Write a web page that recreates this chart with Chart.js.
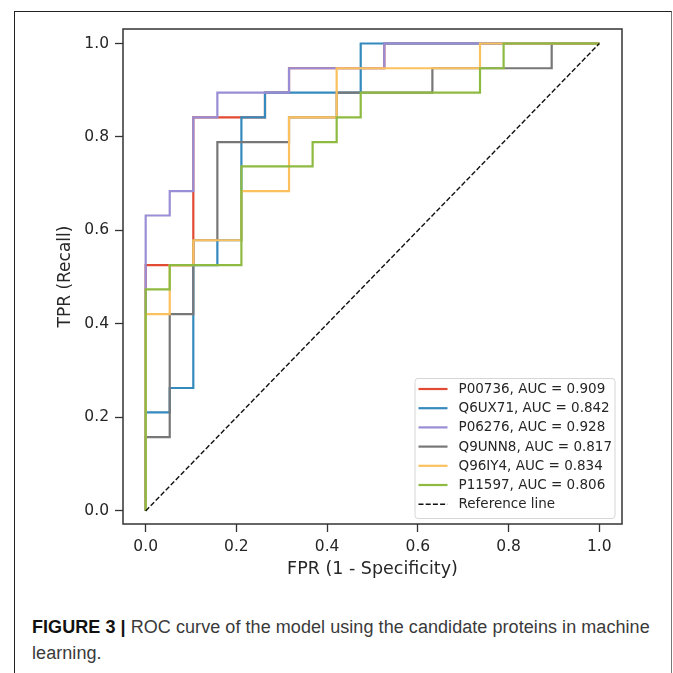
<!DOCTYPE html>
<html>
<head>
<meta charset="utf-8">
<script src="https://cdn.jsdelivr.net/npm/chart.js@4/dist/chart.umd.min.js"></script>
<style>
  html, body { margin: 0; padding: 0; background: #fff; }
  body { width: 673px; height: 673px; position: relative; overflow: hidden; }
  #frame {
    position: absolute; left: 14px; top: 11px; width: 656px; height: 700px;
    border-left: 1px solid #222; border-top: 1px solid #222; border-right: 1px solid #777;
  }
  #wrap { position: absolute; left: 0; top: 0; width: 673px; height: 600px; }
  #caption {
    position: absolute; left: 32px; top: 614px; width: 640px;
    font-family: "Liberation Sans", Arial, sans-serif; font-size: 18px;
    line-height: 26px; color: #3a3a3a; white-space: nowrap;
  }
  #caption b { color: #111; }
</style>
</head>
<body>
<div id="frame"></div>
<div id="wrap"><canvas id="roc" width="673" height="600"></canvas></div>
<div id="caption"><span id="line1"><b>FIGURE 3 |</b> ROC curve of the model using the candidate proteins in machine</span><br>learning.</div>
<script>
// curve labels / AUC
const proteins = ["P00736", "Q6UX71", "P06276", "Q9UNN8", "Q96IY4", "P11597"];
const aucs = ["0.909", "0.842", "0.928", "0.817", "0.834", "0.806"];
const colors = ["#E24A33", "#348ABD", "#988ED5", "#777777", "#FBC15E", "#8EBA42"];

// ROC corners
const fprP00736 = [0, 0, 0.105, 0.105, 0.263, 0.263, 0.316, 0.316, 0.526, 0.526, 1];
const tprP00736 = [0, 0.526, 0.526, 0.842, 0.842, 0.895, 0.895, 0.947, 0.947, 1, 1];

const fprQ6UX71 = [0, 0, 0.053, 0.053, 0.105, 0.105, 0.158, 0.158, 0.211, 0.211, 0.263, 0.263, 0.474, 0.474, 1];
const tprQ6UX71 = [0, 0.211, 0.211, 0.263, 0.263, 0.526, 0.526, 0.579, 0.579, 0.842, 0.842, 0.895, 0.895, 1, 1];

const fprP06276 = [0, 0, 0.053, 0.053, 0.105, 0.105, 0.158, 0.158, 0.316, 0.316, 0.526, 0.526, 1];
const tprP06276 = [0, 0.632, 0.632, 0.684, 0.684, 0.842, 0.842, 0.895, 0.895, 0.947, 0.947, 1, 1];

const fprQ9UNN8 = [0, 0, 0.053, 0.053, 0.105, 0.105, 0.158, 0.158, 0.316, 0.316, 0.421, 0.421, 0.632, 0.632, 0.895, 0.895, 1];
const tprQ9UNN8 = [0, 0.158, 0.158, 0.421, 0.421, 0.579, 0.579, 0.789, 0.789, 0.842, 0.842, 0.895, 0.895, 0.947, 0.947, 1, 1];

const fprQ96IY4 = [0, 0, 0.053, 0.053, 0.105, 0.105, 0.211, 0.211, 0.316, 0.316, 0.421, 0.421, 0.737, 0.737, 1];
const tprQ96IY4 = [0, 0.421, 0.421, 0.526, 0.526, 0.579, 0.579, 0.684, 0.684, 0.842, 0.842, 0.947, 0.947, 1, 1];

const fprP11597 = [0, 0, 0.053, 0.053, 0.211, 0.211, 0.368, 0.368, 0.421, 0.421, 0.474, 0.474, 0.737, 0.737, 0.789, 0.789, 1];
const tprP11597 = [0, 0.474, 0.474, 0.526, 0.526, 0.737, 0.737, 0.789, 0.789, 0.842, 0.842, 0.895, 0.895, 0.947, 0.947, 1, 1];

const refX = [0, 1];
const refY = [0, 1];

const xTicks = [0, 0.2, 0.4, 0.6, 0.8, 1.0];
const yTicks = [0, 0.2, 0.4, 0.6, 0.8, 1.0];

const fprs = [fprP00736, fprQ6UX71, fprP06276, fprQ9UNN8, fprQ96IY4, fprP11597];
const tprs = [tprP00736, tprQ6UX71, tprP06276, tprQ9UNN8, tprQ96IY4, tprP11597];

function pts(xs, ys) {
  return xs.map((x, i) => ({ x: x, y: ys[i] }));
}

var datasets = proteins.map((p, i) => ({
  label: p + ", AUC = " + aucs[i],
  data: pts(fprs[i], tprs[i]),
  borderColor: colors[i],
  backgroundColor: colors[i],
  borderWidth: 2.2,
  showLine: true,
  pointRadius: 0,
  fill: false,
  order: proteins.length - i + 1, // later curves on top, like matplotlib
}));
datasets.push({
  label: "Reference line",
  data: pts(refX, refY),
  borderColor: "#111",
  backgroundColor: "#111",
  borderWidth: 1.4,
  borderDash: [5, 2.2],
  showLine: true,
  pointRadius: 0,
  order: 0,
});

// box round the plot + legend drawn in the lower right
const boxAndLegend = {
  id: "boxAndLegend",
  afterDraw(chart) {
    const ctx = chart.ctx;
    const a = chart.chartArea;
    ctx.save();
    ctx.strokeStyle = "#333";
    ctx.lineWidth = 1.5;
    ctx.strokeRect(a.left, a.top, a.right - a.left, a.bottom - a.top);

    const w = 200, h = 140;
    const lx = a.right - 7.5 - w, ly = a.bottom - 6 - h;
    ctx.fillStyle = "rgba(255,255,255,0.85)";
    ctx.strokeStyle = "#d6d6d6";
    ctx.lineWidth = 1;
    ctx.beginPath();
    ctx.roundRect(lx + 0.5, ly + 0.5, w, h, 3);
    ctx.fill();
    ctx.stroke();

    ctx.font = "13.5px 'DejaVu Sans'";
    ctx.textBaseline = "middle";
    chart.data.datasets.forEach((ds, i) => {
      const y = ly + 11 + i * 19.2;
      ctx.strokeStyle = ds.borderColor;
      ctx.lineWidth = ds.borderDash ? 1.4 : 2.2;
      ctx.setLineDash(ds.borderDash || []);
      ctx.beginPath();
      ctx.moveTo(lx + 4, y);
      ctx.lineTo(lx + 33, y);
      ctx.stroke();
      ctx.setLineDash([]);
      ctx.fillStyle = "#262626";
      ctx.fillText(ds.label, lx + 44, y + 0.5);
    });
    ctx.restore();
  },
};

new Chart(document.getElementById("roc"), {
  type: "scatter",
  data: { datasets: datasets },
  plugins: [boxAndLegend],
  options: {
    responsive: false,
    animation: false,
    layout: { padding: { left: 0, top: 29, right: 51, bottom: 16 } },
    plugins: { legend: { display: false }, tooltip: { enabled: false } },
    elements: { line: { tension: 0, borderCapStyle: "butt" } },
    scales: {
      x: {
        type: "linear",
        min: -0.05,
        max: 1.05,
        afterBuildTicks: (axis) => { axis.ticks = xTicks.map((v) => ({ value: v })); },
        afterFit: (scale) => { scale.height = 60; },
        grid: { drawOnChartArea: false, drawTicks: true, tickLength: 8, tickColor: "#333", tickWidth: 1.3 },
        border: { display: false },
        ticks: {
          padding: 6,
          color: "#262626",
          font: { family: "DejaVu Sans", size: 15.5 },
          callback: (v) => Number(v).toFixed(1),
        },
        title: {
          display: true,
          text: "FPR (1 - Specificity)",
          color: "#262626",
          font: { family: "DejaVu Sans", size: 17.5 },
          padding: { top: 0, bottom: 4 },
        },
      },
      y: {
        type: "linear",
        min: -0.028,
        max: 1.031,
        afterBuildTicks: (axis) => { axis.ticks = yTicks.map((v) => ({ value: v })); },
        afterFit: (scale) => { scale.width = 123; },
        grid: { drawOnChartArea: false, drawTicks: true, tickLength: 8, tickColor: "#333", tickWidth: 1.3 },
        border: { display: false },
        ticks: {
          padding: 6,
          color: "#262626",
          font: { family: "DejaVu Sans", size: 15.5 },
          callback: (v) => Number(v).toFixed(1),
        },
        title: {
          display: true,
          text: "TPR (Recall)",
          color: "#262626",
          font: { family: "DejaVu Sans", size: 17 },
          padding: { top: 55, bottom: 0 },
        },
      },
    },
  },
});

// squeeze the caption's first line to the width seen in the figure
var line1 = document.getElementById("line1");
var txtLen = line1.textContent.length;
var ls = (618 - line1.getBoundingClientRect().width) / txtLen;
document.getElementById("caption").style.letterSpacing = ls.toFixed(2) + "px";
</script>
</body>
</html>
